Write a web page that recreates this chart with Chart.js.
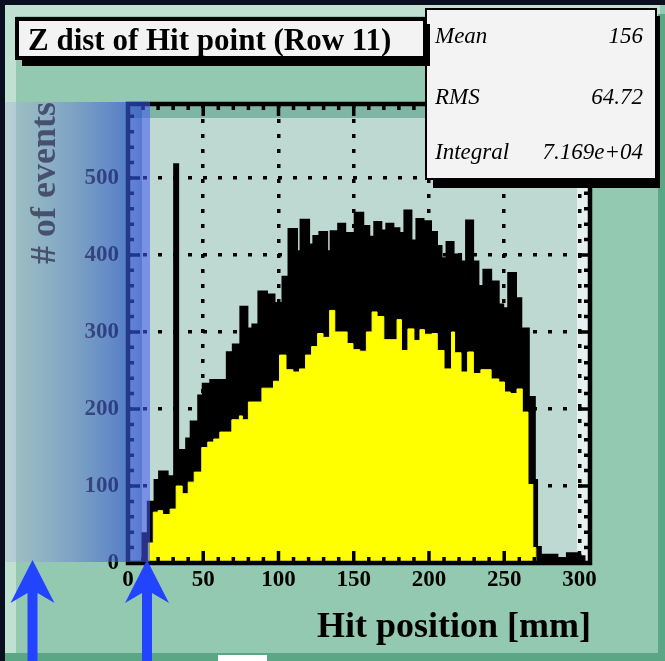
<!DOCTYPE html>
<html>
<head>
<meta charset="utf-8">
<title>Z dist of Hit point (Row 11)</title>
<script src="https://cdn.jsdelivr.net/npm/chart.js@4.4.0/dist/chart.umd.min.js"></script>
<style>
  html, body { margin: 0; padding: 0; background: #0a0e1f; }
  canvas { display: block; }
</style>
</head>
<body>
<canvas id="histCanvas" width="665" height="661"></canvas>
<script>
        // Upper envelope of the histogram (black band): bin start [mm] and counts
        const hiEdges = [0, 10, 13.5, 18, 21, 26, 31, 33, 39, 42,
            47, 50, 55, 66, 70, 75, 79, 83, 87, 92,
            97, 103, 107, 112, 115, 120, 123.5, 127.5, 132, 135,
            140, 144, 151, 156, 160, 164, 168, 172, 176, 180,
            184, 188, 192, 196, 201, 205, 208, 212, 216, 221,
            225, 229, 232.5, 236.5, 241, 246, 249, 253, 257.5, 261,
            266, 270, 271.5, 274, 285, 292, 300, 303];
        const hiCounts = [0, 38, 79, 107, 118, 112, 517, 146, 161, 183,
            217, 232, 237, 273, 283, 332, 304, 309, 352, 348,
            337, 371, 433, 404, 445, 413, 424, 429, 404, 430,
            440, 428, 454, 437, 423, 442, 431, 440, 434, 428,
            457, 418, 446, 443, 429, 411, 395, 416, 400, 391,
            444, 391, 359, 380, 365, 335, 330, 376, 343, 304,
            215, 107, 20, 10, 6, 12, 8, 0];

        // Lower envelope (yellow fill)
        const loEdges = [0, 13.5, 16.8, 20, 23, 28, 32, 36, 40, 44,
            49, 53, 57, 61, 69, 74, 76, 80, 89, 96.7,
            100.7, 105, 109.6, 114, 118, 122, 126, 129.6, 134, 137.4,
            145.6, 149.5, 154, 158.4, 162.2, 165.5, 170, 178.8, 181.7, 186,
            190, 194, 197, 202, 205.5, 210, 215, 217, 221.3, 225.7,
            229.5, 234.5, 241.3, 246.4, 250.2, 254, 258.5, 262, 265.8, 269,
            271];
        const loCounts = [0, 26, 66, 68, 63, 70, 100, 90, 105, 118,
            150, 157, 161, 170, 186, 191, 186, 209, 227, 236,
            270, 251, 248, 252, 270, 281, 298, 293, 328, 300,
            285, 277, 275, 300, 326, 320, 290, 316, 276, 304,
            289, 303, 297, 298, 276, 252, 300, 273, 248, 274,
            246, 251, 239, 235, 222, 220, 226, 196, 102, 20,
            0];

        const xTicks = [0, 50, 100, 150, 200, 250, 300];
        const yTicks = [0, 100, 200, 300, 400, 500];
        const xRange = [0, 307];
        const yRange = [0, 596];

        const titleText = 'Z dist of Hit point (Row 11)';
        const xTitle = 'Hit position [mm]';
        const yTitle = '# of events';
        const statNames = ['Mean', 'RMS', 'Integral'];
        const statValues = ['156', '64.72', '7.169e+04'];

        const serif = '"Liberation Serif", "DejaVu Serif", serif';

        function toSteps(edges, counts) {
            return edges.map((x, i) => ({ x: x, y: counts[i] }));
        }

        // ROOT-like pad, frame, inner ticks, boxes and the slide overlays
        const rootStyle = {
            id: 'rootStyle',
            beforeDraw(chart) {
                const ctx = chart.ctx;
                const a = chart.chartArea;
                ctx.save();
                ctx.fillStyle = '#0a0e1f';
                ctx.fillRect(0, 0, chart.width, chart.height);
                // pad with bevel
                ctx.fillStyle = '#93c9b0';
                ctx.fillRect(5, 5, 660, 656);
                ctx.fillStyle = '#c0e0d2';
                ctx.fillRect(5, 5, 655, 11);
                ctx.fillRect(5, 5, 11, 648);
                ctx.fillStyle = '#5ba685';
                ctx.fillRect(5, 653, 660, 8);
                ctx.fillRect(658, 14, 7, 647);
                // frame fill
                ctx.fillStyle = '#bdd9d2';
                ctx.fillRect(a.left, a.top, a.right - a.left, a.bottom - a.top);
                ctx.fillStyle = '#7fb5a5';
                ctx.fillRect(a.left, a.top, a.right - a.left, 14);
                ctx.fillStyle = '#e6f0ee';
                ctx.fillRect(577, a.top + 2, 11, a.bottom - a.top - 4);
                ctx.restore();
            },
            afterDatasetsDraw(chart) {
                const ctx = chart.ctx;
                const a = chart.chartArea;
                const xs = chart.scales.x;
                const ys = chart.scales.y;
                ctx.save();
                ctx.strokeStyle = '#000';
                ctx.lineWidth = 3.5;
                ctx.beginPath();
                for (let v = 10; v < xRange[1]; v += 10) {
                    const px = xs.getPixelForValue(v);
                    const len = v % 50 === 0 ? 12 : 6;
                    ctx.moveTo(px, a.bottom); ctx.lineTo(px, a.bottom - len);
                    ctx.moveTo(px, a.top); ctx.lineTo(px, a.top + len);
                }
                for (let v = 20; v < yRange[1]; v += 20) {
                    const py = ys.getPixelForValue(v);
                    const len = v % 100 === 0 ? 12 : 6;
                    ctx.moveTo(a.left, py); ctx.lineTo(a.left + len, py);
                    ctx.moveTo(a.right, py); ctx.lineTo(a.right - len, py);
                }
                ctx.stroke();
                ctx.lineWidth = 4.5;
                ctx.strokeRect(a.left, a.top, a.right - a.left, a.bottom - a.top);
                ctx.restore();
            },
            afterDraw(chart) {
                const ctx = chart.ctx;
                ctx.save();

                // stats box
                ctx.fillStyle = '#000';
                ctx.fillRect(433, 16, 227, 172);
                ctx.fillStyle = '#f3f3f3';
                ctx.fillRect(427, 10, 228, 168);
                ctx.strokeStyle = '#000';
                ctx.lineWidth = 2;
                ctx.strokeRect(426, 9, 230, 170);
                ctx.fillStyle = '#000';
                ctx.font = 'italic 23px ' + serif;
                const baselines = [43, 104, 159];
                statNames.forEach((name, i) => {
                    ctx.textAlign = 'left';
                    ctx.fillText(name, 435, baselines[i]);
                    ctx.textAlign = 'right';
                    ctx.fillText(statValues[i], 643, baselines[i]);
                });

                // title box
                ctx.fillStyle = '#000';
                ctx.fillRect(22, 24, 408, 42);
                ctx.fillStyle = '#f3f3f3';
                ctx.fillRect(17, 19, 408, 39);
                ctx.lineWidth = 4;
                ctx.strokeRect(17, 19, 408, 39);
                ctx.fillStyle = '#000';
                ctx.font = 'bold 31px ' + serif;
                ctx.textAlign = 'left';
                ctx.textBaseline = 'alphabetic';
                ctx.fillText(titleText, 28, 50);

                // axis titles
                ctx.font = 'bold 36px ' + serif;
                ctx.textAlign = 'right';
                ctx.fillText(xTitle, 591, 637);
                ctx.save();
                ctx.translate(55, 102);
                ctx.rotate(-Math.PI / 2);
                ctx.fillText(yTitle, 0, 0);
                ctx.restore();

                // translucent blue highlight over the y axis
                const grad = ctx.createLinearGradient(5, 0, 142, 0);
                grad.addColorStop(0, 'rgba(175, 188, 215, 0.45)');
                grad.addColorStop(1, 'rgba(40, 75, 210, 0.68)');
                ctx.fillStyle = grad;
                ctx.fillRect(5, 102, 137, 460);
                ctx.fillStyle = 'rgba(70, 90, 240, 0.57)';
                ctx.fillRect(142, 102, 8, 460);

                // arrows
                ctx.fillStyle = '#2244ff';
                [[32.5, 22, 5], [147, 22, 5]].forEach(([cx, hw, sw]) => {
                    ctx.beginPath();
                    ctx.moveTo(cx, 560);
                    ctx.lineTo(cx + hw, 603);
                    ctx.lineTo(cx + sw, 593);
                    ctx.lineTo(cx + sw, 661);
                    ctx.lineTo(cx - sw, 661);
                    ctx.lineTo(cx - sw, 593);
                    ctx.lineTo(cx - hw, 603);
                    ctx.closePath();
                    ctx.fill();
                });

                ctx.fillStyle = '#ffffff';
                ctx.fillRect(218, 655, 49, 6);
                ctx.restore();
            }
        };

        const tickFont = { family: serif, size: 23, weight: 'bold' };

        const histChart = new Chart(document.getElementById('histCanvas'), {
            type: 'line',
            data: {
                datasets: [{
                    label: 'lower',
                    data: toSteps(loEdges, loCounts),
                    stepped: true,
                    fill: 'origin',
                    backgroundColor: '#ffff00',
                    borderColor: '#ffff00',
                    borderWidth: 1,
                    pointRadius: 0
                }, {
                    label: 'upper',
                    data: toSteps(hiEdges, hiCounts),
                    stepped: true,
                    fill: 'origin',
                    backgroundColor: '#000000',
                    borderColor: '#000000',
                    borderWidth: 3,
                    pointRadius: 0
                }]
            },
            options: {
                responsive: false,
                animation: false,
                devicePixelRatio: 1,
                layout: { padding: { left: 68, right: 75, top: 104, bottom: 58 } },
                plugins: {
                    legend: { display: false },
                    tooltip: { enabled: false }
                },
                scales: {
                    x: {
                        type: 'linear',
                        min: xRange[0],
                        max: xRange[1],
                        afterBuildTicks: s => { s.ticks = xTicks.map(v => ({ value: v })); },
                        afterFit: s => { s.height = 40; },
                        grid: { color: '#000', lineWidth: 3.5, drawTicks: false },
                        border: { display: false, dash: [4, 11] },
                        ticks: { color: '#000', font: tickFont, padding: 3, maxRotation: 0, autoSkip: false }
                    },
                    y: {
                        type: 'linear',
                        min: yRange[0],
                        max: yRange[1],
                        afterBuildTicks: s => { s.ticks = yTicks.map(v => ({ value: v })); },
                        afterFit: s => { s.width = 60; },
                        grid: { color: '#000', lineWidth: 3.5, drawTicks: false },
                        border: { display: false, dash: [4, 11] },
                        ticks: { color: '#000', font: tickFont, padding: 9, autoSkip: false }
                    }
                }
            },
            plugins: [rootStyle]
        });
</script>
</body>
</html>
